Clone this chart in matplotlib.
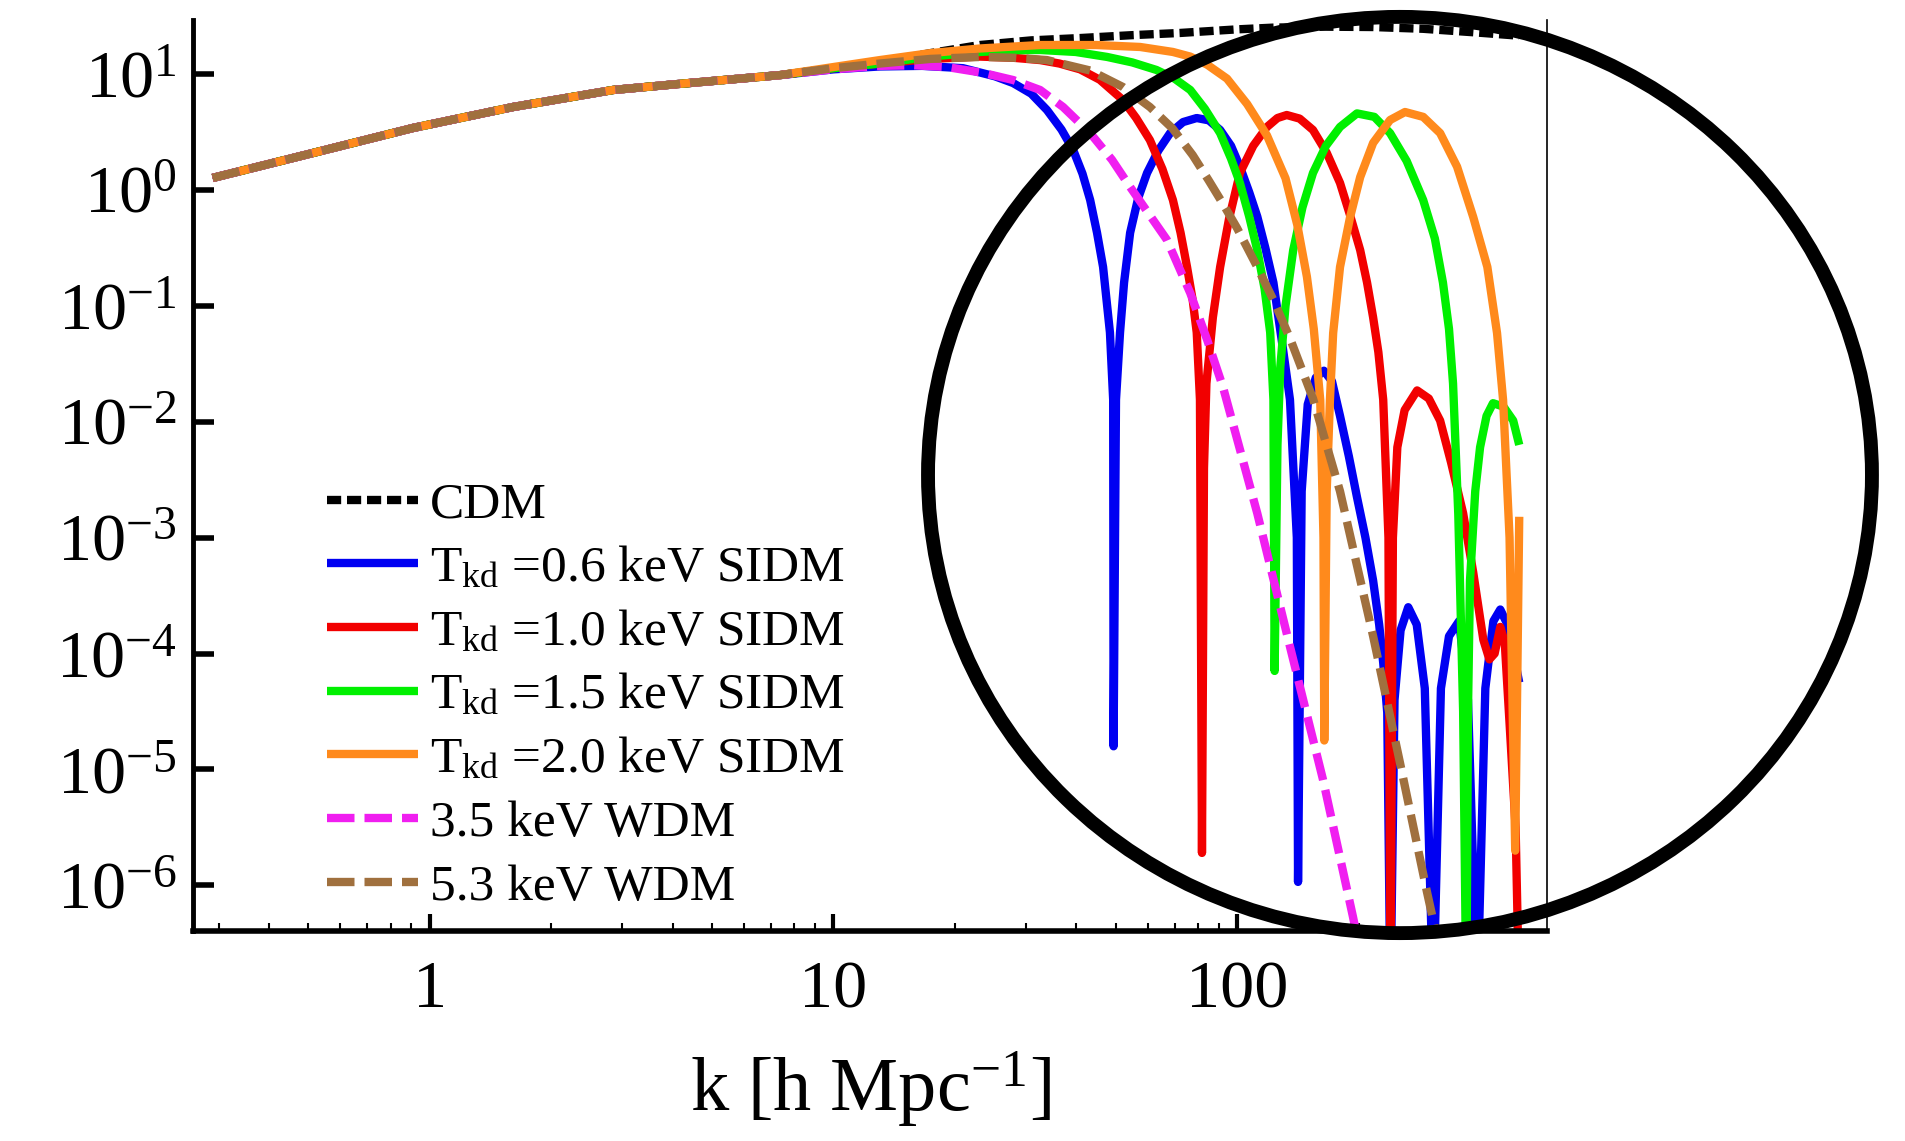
import numpy as np
import matplotlib
matplotlib.use("Agg")
import matplotlib.pyplot as plt
from matplotlib.patches import Ellipse
from matplotlib.ticker import NullLocator, LogLocator, FixedLocator, FixedFormatter, LogFormatterMathtext

plt.rcParams['font.family'] = ['Liberation Serif', 'DejaVu Serif']
plt.rcParams['mathtext.fontset'] = 'custom'
plt.rcParams['mathtext.rm'] = 'Liberation Serif'
plt.rcParams['mathtext.it'] = 'Liberation Serif:italic'
plt.rcParams['mathtext.bf'] = 'Liberation Serif:bold'

# values, as log10(k) and log10(P_ratio)
# low-k part shared by every model
common_logk = [-0.538, -0.29, -0.042, 0.206, 0.454, 0.62, 0.867]
common_logp = [0.103, 0.318, 0.534, 0.715, 0.862, 0.915, 0.99]

cdm_logk = [1.0, 1.115, 1.24, 1.363, 1.49, 1.611, 1.74, 1.859, 2.0, 2.09, 2.22, 2.337,
            2.46, 2.585, 2.699]
cdm_logp = [1.05, 1.10, 1.18, 1.25, 1.29, 1.31, 1.335, 1.354, 1.385, 1.40, 1.408, 1.405,
            1.39, 1.36, 1.33]

blue_logk = [1.0, 1.115, 1.22, 1.321, 1.40, 1.445, 1.49, 1.529, 1.565, 1.594, 1.617, 1.636,
             1.653, 1.668, 1.685, 1.693, 1.694, 1.70, 1.71, 1.72, 1.735, 1.755, 1.777,
             1.805, 1.834, 1.866, 1.90, 1.93, 1.958, 1.985, 2.007, 2.03, 2.05, 2.07, 2.09,
             2.114, 2.131, 2.148, 2.151, 2.16, 2.175, 2.195, 2.215, 2.235, 2.255, 2.277,
             2.297, 2.318, 2.337, 2.352, 2.362, 2.372, 2.38, 2.39, 2.405, 2.424, 2.445,
             2.465, 2.486, 2.505, 2.525, 2.55, 2.572, 2.595, 2.615, 2.635, 2.652, 2.67,
             2.685, 2.699]
blue_logp = [1.04, 1.065, 1.07, 1.05, 0.98, 0.922, 0.83, 0.689, 0.52, 0.344, 0.14, -0.087,
             -0.37, -0.665, -1.23, -1.81, -4.8, -1.81, -1.23, -0.8, -0.37, -0.07, 0.146,
             0.34, 0.49, 0.585, 0.62, 0.60, 0.517, 0.38, 0.2, -0.02, -0.23, -0.5, -0.8,
             -1.38, -1.81, -3.0, -5.97, -2.6, -1.85, -1.62, -1.56, -1.65, -1.95, -2.3,
             -2.65, -3.0, -3.37, -3.75, -4.08, -4.51, -7.0, -4.4, -3.8, -3.6, -3.75,
             -4.3, -7.0, -4.3, -3.85, -3.72, -4.4, -7.0, -4.3, -3.72, -3.62, -3.75,
             -4.0, -4.25]

red_logk = [1.0, 1.115, 1.24, 1.363, 1.445, 1.512, 1.56, 1.611, 1.66, 1.717, 1.75, 1.784,
            1.815, 1.841, 1.86, 1.876, 1.89, 1.90, 1.908, 1.913, 1.918, 1.924, 1.94, 1.958,
            1.98, 2.007, 2.04, 2.074, 2.10, 2.123, 2.155, 2.188, 2.222, 2.255, 2.28, 2.305,
            2.322, 2.337, 2.35, 2.362, 2.375, 2.38, 2.386, 2.397, 2.415, 2.446, 2.475,
            2.503, 2.53, 2.56, 2.585, 2.61, 2.625, 2.638, 2.652, 2.663, 2.675, 2.69, 2.699]
red_logp = [1.05, 1.09, 1.13, 1.15, 1.14, 1.12, 1.09, 1.04, 0.95, 0.776, 0.62, 0.43,
            0.18, -0.087, -0.37, -0.665, -0.95, -1.23, -1.81, -5.72, -2.4, -1.67, -1.1, -0.665,
            -0.25, 0.146, 0.38, 0.543, 0.62, 0.646, 0.615, 0.517, 0.32, 0.06, -0.22, -0.52,
            -0.8, -1.1, -1.4, -1.81, -3.0, -7.0, -3.0, -2.22, -1.9, -1.73, -1.8,
            -1.99, -2.35, -2.79, -3.3, -3.88, -4.05, -4.0, -3.77, -3.9, -4.6, -5.5, -7.0]

green_logk = [1.0, 1.115, 1.24, 1.363, 1.445, 1.512, 1.6, 1.678, 1.74, 1.80, 1.845, 1.884,
              1.92, 1.958, 1.985, 2.007, 2.03, 2.05, 2.068, 2.082, 2.09, 2.093, 2.10, 2.107,
              2.12, 2.139, 2.162, 2.188, 2.22, 2.255, 2.297, 2.34, 2.379, 2.42, 2.461, 2.49,
              2.51, 2.525, 2.535, 2.548, 2.56, 2.568, 2.572, 2.577, 2.59, 2.602, 2.618,
              2.634, 2.66, 2.684, 2.699]
green_logp = [1.05, 1.09, 1.15, 1.19, 1.205, 1.207, 1.19, 1.147, 1.10, 1.035, 0.96, 0.862,
              0.70, 0.49, 0.27, 0.06, -0.23, -0.52, -0.85, -1.23, -1.81, -4.15, -2.2, -1.53,
              -1.0, -0.52, -0.15, 0.146, 0.38, 0.543, 0.66, 0.63, 0.49, 0.25, -0.087, -0.42,
              -0.8, -1.2, -1.67, -2.8, -4.5, -7.0, -4.5, -3.37, -2.6, -2.22, -1.95,
              -1.84, -1.87, -1.99, -2.2]

orange_logk = [1.0, 1.115, 1.24, 1.363, 1.512, 1.65, 1.76, 1.841, 1.884, 1.926, 1.975, 2.025,
               2.074, 2.12, 2.149, 2.173, 2.19, 2.206, 2.214, 2.216, 2.222, 2.230, 2.238,
               2.255, 2.280, 2.305, 2.337, 2.379, 2.416, 2.461, 2.503, 2.545, 2.585, 2.62,
               2.644, 2.659, 2.675, 2.689, 2.699]
orange_logp = [1.06, 1.12, 1.18, 1.22, 1.25, 1.25, 1.233, 1.19, 1.15, 1.08, 0.96, 0.74,
               0.47, 0.1, -0.3, -0.75, -1.2, -1.813, -3.0, -4.75, -2.6, -1.813, -1.235,
               -0.665, -0.234, 0.111, 0.405, 0.603, 0.672, 0.63, 0.49, 0.2, -0.234, -0.665,
               -1.235, -1.813, -3.0, -5.7, -2.82]

magenta_logk = [1.0, 1.115, 1.2, 1.281, 1.37, 1.445, 1.512, 1.569, 1.636, 1.69, 1.735, 1.78,
                1.826, 1.884, 1.926, 1.965, 2.05, 2.131, 2.213, 2.287, 2.33]
magenta_logp = [1.04, 1.07, 1.075, 1.06, 1.01, 0.948, 0.862, 0.715, 0.49, 0.26, 0.025, -0.2,
                -0.43, -0.89, -1.295, -1.70, -2.79, -3.94, -5.09, -6.27, -7.0]

brown_logk = [1.0, 1.115, 1.24, 1.363, 1.45, 1.529, 1.636, 1.717, 1.784, 1.84, 1.89, 1.93,
              1.965, 2.0, 2.05, 2.09, 2.131, 2.188, 2.255, 2.337, 2.404, 2.47, 2.53]
brown_logp = [1.05, 1.09, 1.13, 1.147, 1.14, 1.12, 1.03, 0.888, 0.715, 0.53, 0.3, 0.08,
              -0.12, -0.33, -0.665, -0.95, -1.28, -1.8, -2.6, -3.85, -4.95, -6.05, -7.0]

labels = ['CDM',
          r'T$_{\rm kd}$ =0.6 keV SIDM',
          r'T$_{\rm kd}$ =1.0 keV SIDM',
          r'T$_{\rm kd}$ =1.5 keV SIDM',
          r'T$_{\rm kd}$ =2.0 keV SIDM',
          '3.5 keV WDM',
          '5.3 keV WDM']

series = [(cdm_logk, cdm_logp), (blue_logk, blue_logp), (red_logk, red_logp),
          (green_logk, green_logp), (orange_logk, orange_logp),
          (magenta_logk, magenta_logp), (brown_logk, brown_logp)]
colors = ['black', '#0000F2', '#F20000', '#00F000', '#FF8A1C', '#F01EF0', '#A0703E']
dashes = [(1.7, 0.7), None, None, None, None, (3.3, 1.2), (3.3, 1.2)]

fig = plt.figure(figsize=(19.05, 11.41), dpi=100)
ax = fig.add_axes([0.1013, 0.1840, 0.7108, 0.7985])

for (lk, lp), c, d, lab in zip(series, colors, dashes, labels):
    k = np.power(10.0, common_logk + lk)
    p = np.power(10.0, common_logp + lp)
    line, = ax.plot(k, p, color=c, lw=6, label=lab, solid_capstyle='butt',
                    solid_joinstyle='round')
    if d is not None:
        line.set_dashes(d)

ax.set_xscale('log')
ax.set_yscale('log')
ax.set_xlim(0.259, 586)
ax.set_ylim(10 ** -6.394, 10 ** 1.466)

ax.xaxis.set_major_locator(FixedLocator([1, 10, 100]))
ax.xaxis.set_major_formatter(FixedFormatter(['1', '10', '100']))
ax.xaxis.set_minor_locator(LogLocator(base=10, subs=np.arange(2, 10)))
ax.yaxis.set_major_locator(FixedLocator([10.0 ** e for e in range(-6, 2)]))
ax.yaxis.set_major_formatter(LogFormatterMathtext())
ax.yaxis.set_minor_locator(NullLocator())

ax.tick_params(axis='x', which='major', direction='in', length=12, width=3,
               labelsize=49, pad=21, top=False)
ax.tick_params(axis='x', which='minor', direction='in', length=6, width=1.5, top=False)
ax.tick_params(axis='y', which='major', direction='in', length=15, width=4,
               labelsize=49, pad=12, right=False)

ax.spines['top'].set_visible(False)
ax.spines['right'].set_linewidth(1.2)
ax.spines['left'].set_linewidth(3.5)
ax.spines['bottom'].set_linewidth(4)

ax.set_xlabel('k [h Mpc$^{-1}$]', fontsize=55)
ax.xaxis.set_label_coords(0.5, -0.13)

ax.legend(loc='upper left', bbox_to_anchor=(0.099, 0.4934), fontsize=37,
          frameon=False, handlelength=1.77, handletextpad=0.23, labelspacing=0.325,
          borderaxespad=0, borderpad=0)

# highlight ring drawn over the figure
ring = Ellipse((0.7349, 0.5837), 0.4955, 0.803, transform=fig.transFigure,
               fill=False, lw=10, ec='black', zorder=20)
fig.add_artist(ring)

fig.savefig('out.png', dpi=100)
